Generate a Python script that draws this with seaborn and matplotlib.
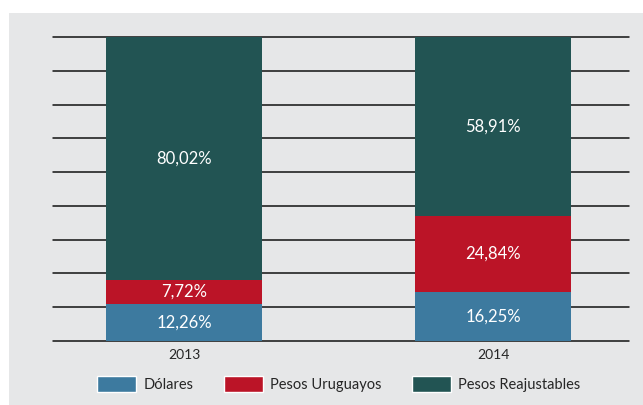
import numpy as np
import pandas as pd
import matplotlib
matplotlib.use("Agg")
import matplotlib.pyplot as plt
import matplotlib.patches as mpatches
import seaborn as sns

years = ["2013", "2014"]
series = ["Dólares", "Pesos Uruguayos", "Pesos Reajustables"]
dolares = [12.26, 16.25]
pesos_uy = [7.72, 24.84]
pesos_reaj = [80.02, 58.91]
colors = ["#3d7a9f", "#bb1427", "#225453"]

df = pd.DataFrame({"year": years, "Dólares": dolares,
                   "Pesos Uruguayos": pesos_uy, "Pesos Reajustables": pesos_reaj})

sns.set_theme(style="white")
plt.rcParams["font.family"] = ["Lato", "DejaVu Sans"]

fig = plt.figure(figsize=(6.43, 4.05), dpi=100)
fig.patch.set_facecolor("white")
fig.patches.append(mpatches.Rectangle((9 / 643, 0), 1, 1 - 13 / 405, transform=fig.transFigure,
                                      facecolor="#e6e7e8", edgecolor="none", zorder=-10))
ax = fig.add_axes([53 / 643, 1 - 341 / 405, 576 / 643, 304 / 405])
ax.set_facecolor("none")

bottom = np.zeros(len(years))
for name, col in zip(series, colors):
    vals = df[name].values
    sns.barplot(x="year", y=name, data=df, color=col, width=0.505, bottom=bottom,
                ax=ax, zorder=3, linewidth=0, saturation=1)
    for i, v in enumerate(vals):
        ax.text(i, bottom[i] + v / 2, f"{v:.2f}%".replace(".", ","), ha="center", va="center",
                color="white", fontsize=12, zorder=4)
    bottom = bottom + vals

ax.set_xlim(-0.424, 1.44)
ax.set_ylim(0, 100)
ax.set_yticks(np.linspace(0, 100, 10))
ax.yaxis.grid(True, color="#111111", linewidth=1.1, zorder=0)
for g in ax.get_ygridlines():
    g.set_clip_on(False)
ax.tick_params(axis="y", length=0, labelleft=False)
ax.tick_params(axis="x", length=0, labelsize=10, pad=6)
for s in ax.spines.values():
    s.set_visible(False)
ax.set_xlabel("")
ax.set_ylabel("")

handles = [mpatches.Patch(facecolor=c, label=n) for n, c in zip(series, colors)]
fig.legend(handles=handles, loc="center", bbox_to_anchor=(0.527, 1 - 384 / 405), ncol=3,
           frameon=False, fontsize=10.5, handlelength=2.7, handleheight=1.25,
           columnspacing=2.05, handletextpad=0.5)

fig.savefig("out.png", dpi=100)
